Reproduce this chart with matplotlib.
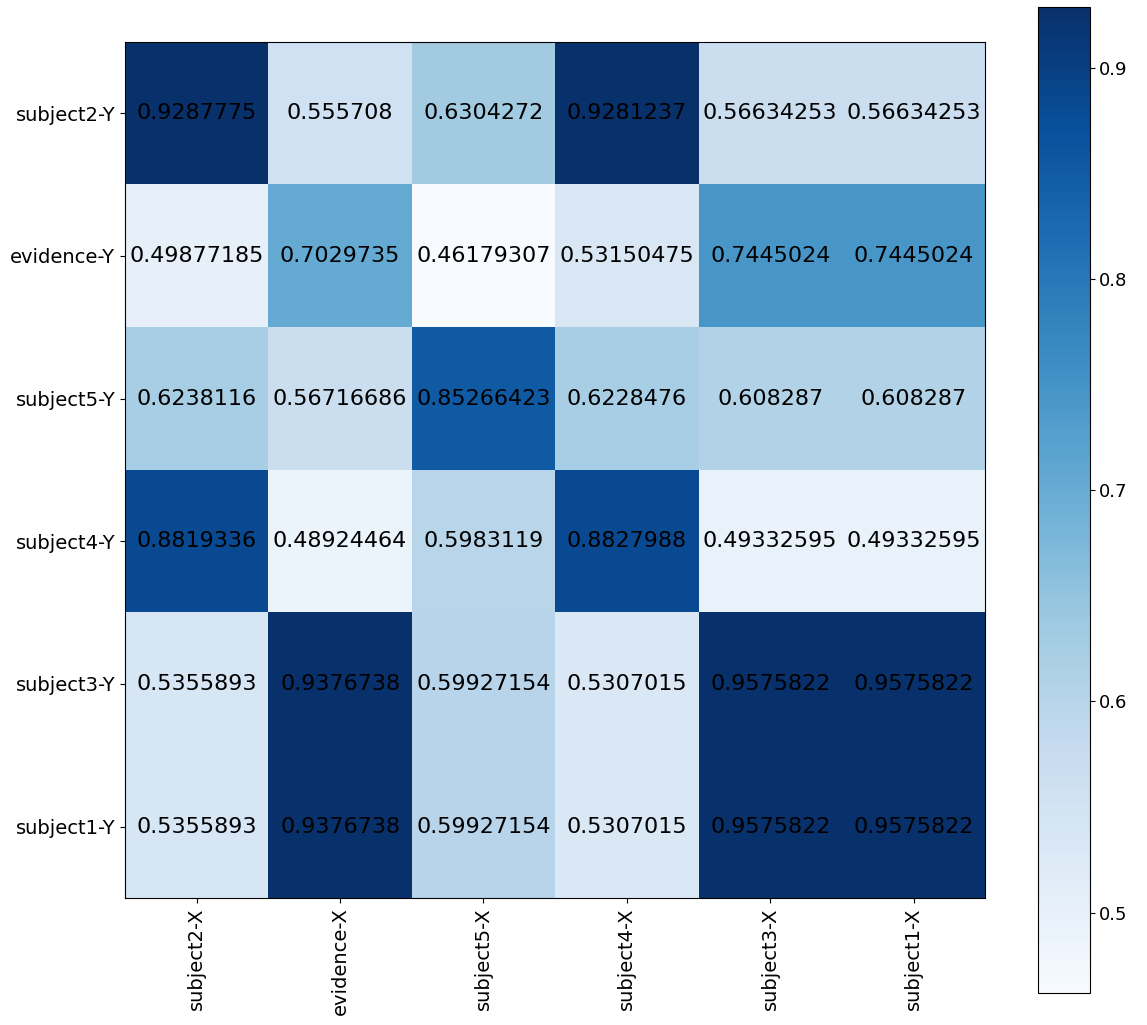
import numpy as np
import matplotlib
matplotlib.use("Agg")
import matplotlib.pyplot as plt

x_labels = ["subject2-X", "evidence-X", "subject5-X", "subject4-X", "subject3-X", "subject1-X"]
y_labels = ["subject2-Y", "evidence-Y", "subject5-Y", "subject4-Y", "subject3-Y", "subject1-Y"]

row_subject2 = [0.9287775, 0.555708, 0.6304272, 0.9281237, 0.56634253, 0.56634253]
row_evidence = [0.49877185, 0.7029735, 0.46179307, 0.53150475, 0.7445024, 0.7445024]
row_subject5 = [0.6238116, 0.56716686, 0.85266423, 0.6228476, 0.608287, 0.608287]
row_subject4 = [0.8819336, 0.48924464, 0.5983119, 0.8827988, 0.49332595, 0.49332595]
row_subject3 = [0.5355893, 0.9376738, 0.59927154, 0.5307015, 0.9575822, 0.9575822]
row_subject1 = [0.5355893, 0.9376738, 0.59927154, 0.5307015, 0.9575822, 0.9575822]

cells = np.array([row_subject2, row_evidence, row_subject5,
                  row_subject4, row_subject3, row_subject1])
text_cells = [["0.9287775", "0.555708", "0.6304272", "0.9281237", "0.56634253", "0.56634253"],
              ["0.49877185", "0.7029735", "0.46179307", "0.53150475", "0.7445024", "0.7445024"],
              ["0.6238116", "0.56716686", "0.85266423", "0.6228476", "0.608287", "0.608287"],
              ["0.8819336", "0.48924464", "0.5983119", "0.8827988", "0.49332595", "0.49332595"],
              ["0.5355893", "0.9376738", "0.59927154", "0.5307015", "0.9575822", "0.9575822"],
              ["0.5355893", "0.9376738", "0.59927154", "0.5307015", "0.9575822", "0.9575822"]]

# colour scale in the picture tops out near the first cell's value
vmin, vmax = cells.min(), 0.9288

fig = plt.figure(figsize=(11.47, 10.25), dpi=100)
ax = fig.add_axes([0.109, 0.124, 0.750, 0.835])
cax = fig.add_axes([0.905, 0.031, 0.045, 0.962])

im = ax.imshow(cells, cmap="Blues", interpolation="nearest", aspect="auto",
               vmin=vmin, vmax=vmax)
for i in range(cells.shape[0]):
    for j in range(cells.shape[1]):
        ax.text(j, i, text_cells[i][j], ha="center", va="center",
                fontsize=16, color="black")

ax.set_xticks(range(len(x_labels)))
ax.set_xticklabels(x_labels, rotation=90, fontsize=14)
ax.set_yticks(range(len(y_labels)))
ax.set_yticklabels(y_labels, fontsize=14)

cb = fig.colorbar(im, cax=cax)
cb.ax.tick_params(labelsize=13)

fig.savefig("out.png", dpi=100)
